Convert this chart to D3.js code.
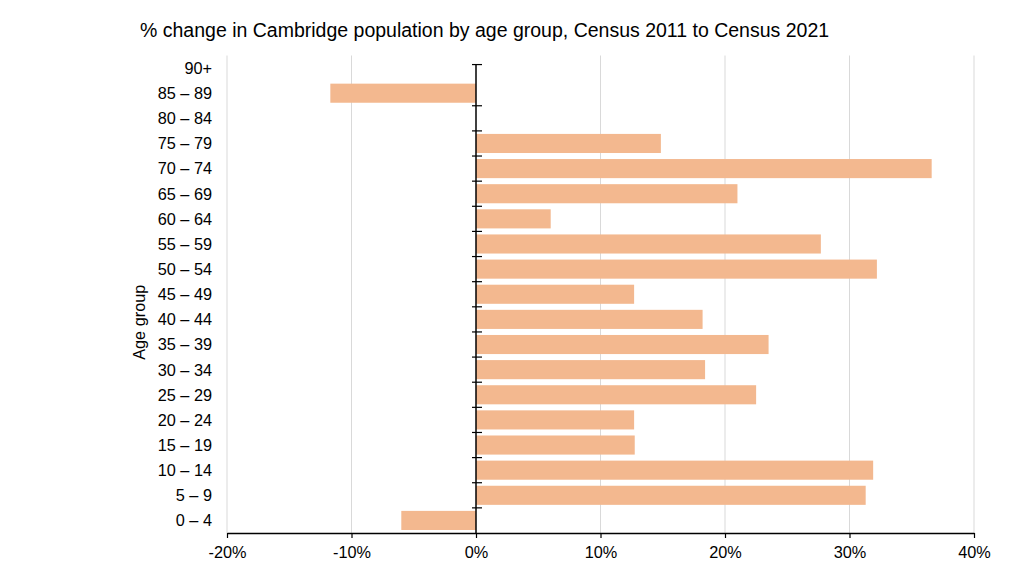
<!DOCTYPE html>
<html>
<head>
<meta charset="utf-8">
<script src="https://cdn.jsdelivr.net/npm/d3@7"></script>
<style>
  html, body { margin: 0; padding: 0; background: #fff; }
  svg { display: block; }
  text { font-family: "Liberation Sans", Arial, sans-serif; fill: #000; }
</style>
</head>
<body>
<svg id="chart" width="1024" height="576"></svg>
<script>
const title = "% change in Cambridge population by age group, Census 2011 to Census 2021";
const ageGroups = ["0 – 4", "5 – 9", "10 – 14", "15 – 19", "20 – 24", "25 – 29", "30 – 34",
  "35 – 39", "40 – 44", "45 – 49", "50 – 54", "55 – 59", "60 – 64", "65 – 69",
  "70 – 74", "75 – 79", "80 – 84", "85 – 89", "90+"];
const pctChange = [-6.0, 31.3, 31.9, 12.75, 12.7, 22.5, 18.4, 23.5, 18.2, 12.7, 32.2,
  27.7, 6.0, 21.0, 36.6, 14.85, 0, -11.7, 0];
const xTicks = [-20, -10, 0, 10, 20, 30, 40];
const yAxisTitle = "Age group";

const svg = d3.select("#chart");
const plotLeft = 227, plotRight = 974, plotTop = 55.5, plotBottom = 533;

const x = d3.scaleLinear().domain([-20, 40]).range([plotLeft, plotRight]);
const y = d3.scaleBand().domain(ageGroups).range([plotBottom, plotTop])
  .paddingInner(0.24).paddingOuter(0.12);

// gridlines
svg.append("g").selectAll("line")
  .data(xTicks.filter(d => d !== 0))
  .join("line")
  .attr("x1", d => x(d)).attr("x2", d => x(d))
  .attr("y1", plotTop).attr("y2", plotBottom)
  .attr("stroke", "#d9d9d9").attr("stroke-width", 1);

// bars
svg.append("g").selectAll("rect")
  .data(ageGroups.map((g, i) => ({g, v: pctChange[i]})).filter(d => d.v !== 0))
  .join("rect")
  .attr("x", d => x(Math.min(0, d.v)))
  .attr("width", d => Math.abs(x(d.v) - x(0)))
  .attr("y", d => y(d.g))
  .attr("height", y.bandwidth())
  .attr("fill", "#f3b88f");

// x axis
const xAxis = d3.axisBottom(x).tickValues(xTicks).tickFormat(d => d + "%").tickSize(5).tickSizeOuter(0);
const gx = svg.append("g").attr("transform", `translate(0,${plotBottom})`).call(xAxis);
gx.select(".domain").attr("stroke", "#000").attr("stroke-width", 1.5);
gx.selectAll(".tick line").attr("stroke", "#000").attr("stroke-width", 1.2);
gx.selectAll(".tick text").attr("font-size", 16.3).attr("font-family", "Liberation Sans, Arial, sans-serif")
  .attr("fill", "#000").attr("y", 8).attr("dy", "1.05em");

// zero axis line with crossing ticks at band boundaries
const x0 = x(0);
const step = y.step();
const boundaries = ageGroups.slice(1).map((g, i) => plotBottom - (i + 1) * step);
const axisTop = y(ageGroups[ageGroups.length - 1]) + y.bandwidth() / 2 - 3.5;
const gz = svg.append("g");
gz.append("line").attr("x1", x0).attr("x2", x0).attr("y1", axisTop).attr("y2", plotBottom)
  .attr("stroke", "#000").attr("stroke-width", 1.5);
gz.selectAll("line.t").data(boundaries.slice(0, -1).concat([axisTop])).join("line").attr("class", "t")
  .attr("x1", x0 - 4).attr("x2", x0 + 6)
  .attr("y1", d => d).attr("y2", d => d)
  .attr("stroke", "#000").attr("stroke-width", 1.2);

// category labels
svg.append("g").selectAll("text").data(ageGroups).join("text")
  .attr("x", 212).attr("y", d => y(d) + y.bandwidth() / 2)
  .attr("dy", "0.36em").attr("text-anchor", "end")
  .attr("font-size", 16.3).text(d => d);

// y axis title
svg.append("text")
  .attr("transform", `translate(145,${(plotTop + plotBottom) / 2 + 28}) rotate(-90)`)
  .attr("text-anchor", "middle").attr("font-size", 16.3).text(yAxisTitle);

// title
svg.append("text").attr("x", 140).attr("y", 37).attr("font-size", 19.5).text(title);
</script>
</body>
</html>
